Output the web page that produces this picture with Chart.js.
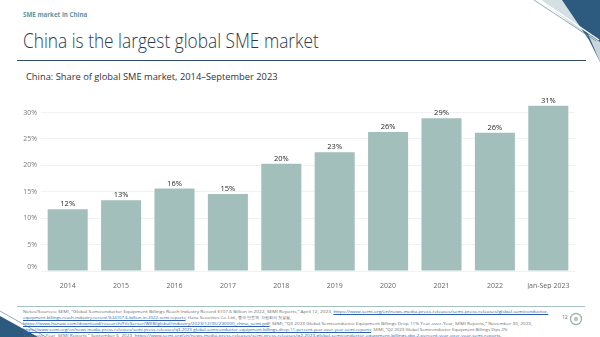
<!DOCTYPE html>
<html lang="en">
<head>
    <meta charset="UTF-8">
    <script src="https://cdn.jsdelivr.net/npm/chart.js"></script>
    <title>China SME market</title>
    <style>
        html, body {
            margin: 0;
            padding: 0;
            width: 600px;
            height: 337px;
            overflow: hidden;
            background: #ffffff;
            font-family: "Open Sans", sans-serif;
        }
        .abs { position: absolute; white-space: nowrap; transform-origin: 0 0; }
        #kicker {
            left: 23px; top: 11px;
            font-size: 7px; font-weight: 700; line-height: 1;
            color: #5497a3;
        }
        #title {
            left: 23px; top: 30.5px;
            font-size: 19.5px; font-weight: 300; line-height: 1;
            color: #2b3a4c;
        }
        #rule {
            left: 17px; top: 59.5px; width: 569px; height: 1.5px;
            background: #2f4d68;
        }
        #subtitle {
            left: 26px; top: 71.5px;
            font-size: 9.5px; line-height: 1;
            color: #333;
        }
        #chartBox {
            left: 0; top: 88px; width: 600px; height: 201px;
        }
        #footRule {
            left: 17px; top: 305.5px; width: 568px; height: 1px;
            background: #a6c2bf;
        }
        #notes {
            left: 23px; top: 308px;
            font-size: 4.3px; line-height: 6px;
            color: #6a6a6a;
        }
        #notes div { width: max-content; transform-origin: 0 0; }
        #notes a { color: #2a5fb0; text-decoration: underline; }
        #pageNo {
            left: 562px; top: 315px;
            font-size: 5px; line-height: 1; color: #666;
        }
    </style>
</head>
<body>
    <svg class="abs" style="left:0;top:0" width="600" height="337">
        <!-- top right decoration -->
        <polygon points="540,0 600,0 600,46" fill="#d3dfe2"/>
        <polygon points="562,0 600,0 600,62 589,40" fill="#2d5b80"/>
        <polygon points="588,34 600,42 600,62" fill="#c9d6d9"/>
        <line x1="540" y1="0" x2="599" y2="40" stroke="#ffffff" stroke-width="1.5"/>
        <line x1="534" y1="0" x2="596" y2="41" stroke="#7a97a6" stroke-width="0.8"/>
        <!-- bottom left decoration -->
        <polygon points="0,316 38,337 0,337" fill="#2d5b80"/>
        <line x1="0" y1="311" x2="46" y2="337" stroke="#8fb0c2" stroke-width="1"/>
        <!-- logo -->
        <g transform="translate(576,319)">
            <circle cx="0" cy="0" r="5.5" fill="none" stroke="#a3b5a8" stroke-width="1.4"/>
            <circle cx="0" cy="0" r="2.2" fill="#b9c8bc"/>
        </g>
    </svg>

    <div id="kicker" class="abs" data-w="64">SME market in China</div>
    <div id="title" class="abs" data-w="296">China is the largest global SME market</div>
    <div id="rule" class="abs"></div>
    <div id="subtitle" class="abs" data-w="252">China: Share of global SME market, 2014–September 2023</div>

    <div id="chartBox" class="abs">
        <canvas id="smeChart" width="600" height="201"></canvas>
    </div>

    <div id="footRule" class="abs"></div>
    <div id="notes" class="abs">
        <div data-nw="525">Notes/Sources: SEMI, “Global Semiconductor Equipment Billings Reach Industry Record $107.6 Billion in 2022, SEMI Reports,” April 12, 2023, <a>https://www.semi.org/en/news-media-press-releases/semi-press-releases/global-semiconductor-</a></div>
        <div data-nw="268"><a>equipment-billings-reach-industry-record-%24107.6-billion-in-2022-semi-reports</a>; Hana Securities Co. Ltd., 중국 반도체 자립화의 첫걸음,</div>
        <div data-nw="509"><a>https://www.hanaw.com/download/research/FileServer/WEB/global/industry/2023/12/05/230000_china_semi.pdf</a>; SEMI, “Q3 2023 Global Semiconductor Equipment Billings Drop 11% Year-over-Year, SEMI Reports,” November 30, 2023,</div>
        <div data-nw="485"><a>https://www.semi.org/en/news-media-press-releases/semi-press-releases/q3-2023-global-semiconductor-equipment-billings-drop-11-percent-year-over-year-semi-reports</a>; SEMI, “Q2 2023 Global Semiconductor Equipment Billings Dips 2%</div>
        <div data-nw="479">Year-over-Year, SEMI Reports,” September 6, 2023, <a>https://www.semi.org/en/news-media-press-releases/semi-press-releases/q2-2023-global-semiconductor-equipment-billings-dip-2-percent-year-over-year-semi-reports</a>.</div>
    </div>
    <div id="pageNo" class="abs">12</div>

    <script>
        // chart data
        const years = ['2014', '2015', '2016', '2017', '2018', '2019', '2020', '2021', '2022', 'Jan-Sep 2023'];
        const chinaShare = [11.7, 13.4, 15.6, 14.6, 20.3, 22.5, 26.3, 28.9, 26.2, 31.3];
        const yTicks = [0, 5, 10, 15, 20, 25, 30];

        // squeeze slide texts to the widths they have on the slide
        function fitWidth(el, target) {
            const w = el.offsetWidth;
            if (w > 0) el.style.transform = 'scaleX(' + (target / w) + ')';
        }
        document.querySelectorAll('[data-w]').forEach(el => fitWidth(el, parseFloat(el.dataset.w)));
        document.querySelectorAll('[data-nw]').forEach(el => fitWidth(el, parseFloat(el.dataset.nw)));

        // labels over the bars, and the 0% label sitting a bit above its line
        const barLabels = {
            id: 'barLabels',
            afterDatasetsDraw(chart) {
                const ctx = chart.ctx;
                const meta = chart.getDatasetMeta(0);
                ctx.save();
                ctx.font = '7.5px "Open Sans"';
                ctx.fillStyle = '#262626';
                ctx.textAlign = 'center';
                ctx.textBaseline = 'alphabetic';
                meta.data.forEach((bar, i) => {
                    ctx.fillText(Math.round(chinaShare[i]) + '%', bar.x, bar.y - 3);
                });
                const y = chart.scales.y;
                ctx.font = '7px "Open Sans"';
                ctx.fillStyle = '#7a7a7a';
                ctx.textAlign = 'right';
                ctx.textBaseline = 'middle';
                ctx.fillText('0%', y.right - 4, y.getPixelForValue(0) - 4);
                ctx.restore();
            }
        };

        const ctx = document.getElementById('smeChart').getContext('2d');
        new Chart(ctx, {
            type: 'bar',
            data: {
                labels: years,
                datasets: [{
                    data: chinaShare,
                    backgroundColor: '#a3bfbc',
                    categoryPercentage: 1.0,
                    barPercentage: 0.75
                }]
            },
            options: {
                responsive: false,
                animation: false,
                layout: { padding: { top: 14, right: 25, left: 0, bottom: 0 } },
                plugins: {
                    legend: { display: false },
                    tooltip: { enabled: false }
                },
                scales: {
                    x: {
                        grid: { display: false },
                        border: { display: false },
                        ticks: {
                            color: '#666',
                            font: { family: 'Open Sans', size: 7 },
                            padding: 3,
                            maxRotation: 0
                        },
                        afterFit(scale) { scale.height = 18; }
                    },
                    y: {
                        min: 0,
                        max: 32,
                        afterBuildTicks(scale) {
                            scale.ticks = yTicks.map(v => ({ value: v }));
                        },
                        grid: { color: '#f1f1f1', drawTicks: false },
                        border: { display: false },
                        ticks: {
                            color: '#7a7a7a',
                            font: { family: 'Open Sans', size: 7 },
                            padding: 4,
                            callback: v => v === 0 ? '' : v + '%'
                        },
                        afterFit(scale) { scale.width = 41; }
                    }
                }
            },
            plugins: [barLabels]
        });
    </script>
</body>
</html>
